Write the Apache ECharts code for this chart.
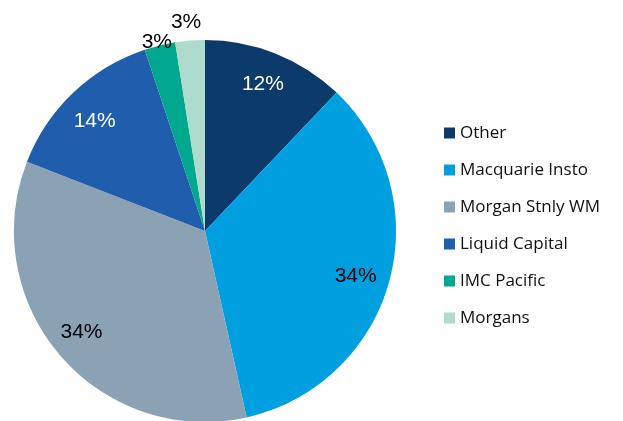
<!DOCTYPE html>
<html>
<head>
<meta charset="utf-8">
<script src="https://cdn.jsdelivr.net/npm/echarts@6/dist/echarts.min.js"></script>
<style>
  html, body { margin: 0; padding: 0; background: #fff; }
  #chart { width: 623px; height: 421px; }
</style>
</head>
<body>
<div id="chart"></div>
<script>
// 数据
const names = ['Other', 'Macquarie Insto', 'Morgan Stnly WM', 'Liquid Capital', 'IMC Pacific', 'Morgans'];
const values = [12.1, 34.4, 34.4, 14.0, 2.6, 2.5];
const colors = ['#0c3a6b', '#00a0e0', '#8ba2b5', '#215dad', '#00a88f', '#aedbce'];
const labelColors = ['#fff', '#000', '#000', '#fff', '#000', '#000'];
const outsideLen = [0, 0, 0, 0, 6, 22]; // 小扇区的标签放在外面
// 标签微调
const labelShift = [[-2, 3], [-5, 2], [-1, -4], [1, 7], [58, 1], [18, 4]];

const chart = echarts.init(document.getElementById('chart'));

const cx = 205, cy = 231, R = 191;

chart.setOption({
    animation: false,
    color: colors,
    legend: {
        orient: 'vertical',
        left: 439,
        top: 119,
        icon: 'rect',
        itemWidth: 11,
        itemHeight: 11,
        itemGap: 19,
        textStyle: { fontFamily: 'Open Sans', fontSize: 17, color: '#111', lineHeight: 18 },
        data: names
    },
    series: [
        {
            // 饼图本体
            type: 'pie',
            center: [cx, cy],
            radius: [0, R],
            startAngle: 90,
            clockwise: true,
            label: { show: false },
            labelLine: { show: false },
            silent: true,
            data: names.map((n, i) => ({ name: n, value: values[i] }))
        },
        {
            // 透明的圆环，只用来放百分比标签
            type: 'pie',
            center: [cx, cy],
            radius: [R * 0.66, R],
            startAngle: 90,
            clockwise: true,
            silent: true,
            itemStyle: { color: 'rgba(0,0,0,0)' },
            label: {
                show: true,
                position: 'inside',
                fontFamily: 'Liberation Sans',
                fontSize: 21,
                formatter: p => Math.round(p.value) + '%'
            },
            labelLayout: p => ({ dx: labelShift[p.dataIndex][0], dy: labelShift[p.dataIndex][1] }),
            data: names.map((n, i) => {
                const item = {
                    name: n,
                    value: values[i],
                    label: { color: labelColors[i] }
                };
                if (outsideLen[i] > 0) {
                    item.label.position = 'outside';
                    item.labelLine = { show: false, length: outsideLen[i], length2: 0 };
                }
                return item;
            })
        }
    ]
});
</script>
</body>
</html>
